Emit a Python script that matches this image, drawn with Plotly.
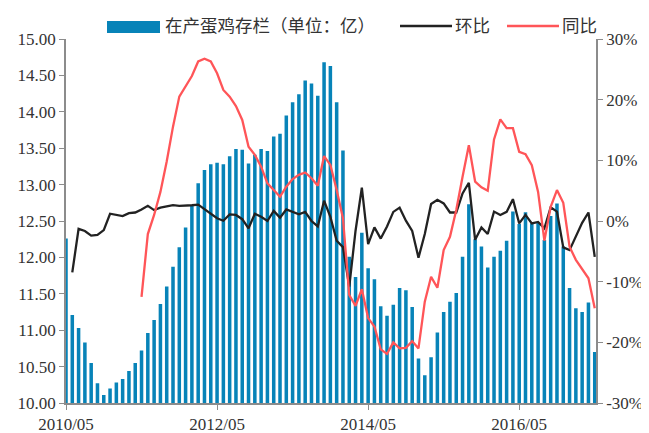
import pandas as pd
import plotly.graph_objects as go

months = [d.strftime("%Y/%m") for d in pd.date_range("2010-05-01", "2017-05-01", freq="MS")]

inventory = [12.26, 11.21, 11.03, 10.83, 10.55, 10.27, 10.11, 10.20, 10.28, 10.33, 10.44, 10.55,
             10.72, 10.96, 11.14, 11.36, 11.60, 11.87, 12.14, 12.41, 12.71, 13.02, 13.20, 13.28,
             13.30, 13.28, 13.39, 13.49, 13.48, 13.29, 13.41, 13.49, 13.46, 13.66, 13.70, 13.95,
             14.13, 14.24, 14.43, 14.39, 14.22, 14.68, 14.63, 14.13, 13.47, 12.01, 11.73, 12.34,
             11.85, 11.70, 11.33, 11.20, 11.35, 11.58, 11.55, 11.32, 10.61, 10.38, 10.63, 10.97,
             11.25, 11.39, 11.51, 12.01, 12.73, 12.25, 12.15, 11.86, 12.01, 12.09, 12.23, 12.63,
             12.46, 12.62, 12.47, 12.48, 12.24, 12.57, 12.74, 12.15, 11.58, 11.30, 11.25, 11.38,
             10.70]

mom = [None, -8.46, -1.3, -1.65, -2.4, -2.3, -1.5, 1.2, 1.0, 0.8, 1.3, 1.4,
       1.9, 2.5, 1.8, 2.2, 2.4, 2.6, 2.5, 2.5, 2.6, 2.7, 1.9, 1.15,
       0.45, 0.05, 1.1, 1.0, 0.3, -1.2, 1.2, 0.7, 0.0, 1.65, 0.55, 1.9,
       1.5, 1.1, 1.5, 0.0, -0.9, 3.35, 0.7, -3.25, -4.3, -10.8, -1.6, 5.5,
       -3.8, -1.05, -2.9, -0.9, 1.5, 2.2, 0.05, -1.65, -6.05, -2.15, 2.8, 3.5,
       2.9, 1.4, 1.4, 4.55, 6.3, -3.1, -1.05, -2.15, 1.55, 1.0, 1.5, 3.6,
       -0.4, 1.0, -0.4, -0.15, -1.2, 2.25, 1.55, -4.35, -4.8, -2.6, -0.3, 1.4,
       -5.9]

yoy = [None] * 12 + [
       -12.5, -2.15, 1.0, 4.8, 9.8, 15.55, 20.5, 22.1, 23.9, 26.3, 26.75, 26.3,
       24.35, 21.6, 20.5, 18.95, 16.65, 12.25, 10.9, 8.95, 6.2, 5.1, 4.0, 5.65,
       6.9, 7.6, 8.0, 7.05, 5.8, 10.7, 9.25, 5.1, 0.45, -12.2, -14.0, -11.25,
       -16.0, -17.4, -21.15, -21.9, -20.0, -21.0, -20.9, -19.8, -21.0, -13.3, -9.2, -11.0,
       -4.8, -2.6, 1.8, 7.3, 12.5, 6.5, 5.55, 5.0, 13.45, 16.75, 15.3, 15.3,
       11.4, 11.0, 9.2, 4.8, -3.25, 2.35, 5.1, 3.0, -4.25, -6.4, -8.0, -9.45,
       -14.4]

left_ticks = [10 + 0.5 * k for k in range(11)]
left_text = ["%.2f" % v for v in left_ticks]
right_ticks = [-30, -20, -10, 0, 10, 20, 30]
right_text = ["%d%%" % v for v in right_ticks]
x_ticks = ["2010/05", "2012/05", "2014/05", "2016/05"]

BLUE = "#0783B8"
BLACK = "#222222"
RED = "#FF5558"
AXIS = "#8C8C8C"
TXT = "#333333"

fig = go.Figure()
fig.add_trace(go.Bar(x=months, y=inventory, marker=dict(color=BLUE, line=dict(width=0)),
                     name="在产蛋鸡存栏（单位：亿）", yaxis="y"))
fig.add_trace(go.Scatter(x=months, y=mom, mode="lines", line=dict(color=BLACK, width=2.3),
                         name="环比", yaxis="y2", connectgaps=False))
fig.add_trace(go.Scatter(x=months, y=yoy, mode="lines", line=dict(color=RED, width=2.3),
                         name="同比", yaxis="y2", connectgaps=False))

tickfont = dict(family="Liberation Serif", size=17, color=TXT)

# page body has an 8px margin; figure is sized so the plot area lands at x 66-596, y 39-403
fig.update_layout(
    width=641, height=425,
    margin=dict(l=58, r=53, t=31, b=30, autoexpand=False),
    paper_bgcolor="white", plot_bgcolor="white",
    showlegend=False,
    bargap=0.44,
    xaxis=dict(type="category", range=[0, 84.2], tickmode="array", tickvals=x_ticks, ticktext=x_ticks,
               showgrid=False, zeroline=False, showline=True, linecolor=AXIS, linewidth=1.5,
               ticks="outside", ticklen=5, tickcolor=AXIS, tickfont=tickfont, automargin=False),
    yaxis=dict(range=[10, 15], tickmode="array", tickvals=left_ticks, ticktext=left_text,
               showgrid=False, zeroline=False, automargin=False,
               showline=True, linecolor=AXIS, linewidth=1.5, ticks="outside", ticklen=5, tickcolor=AXIS,
               tickfont=tickfont),
    yaxis2=dict(range=[-30, 30], tickmode="array", tickvals=right_ticks, ticktext=right_text,
                overlaying="y", side="right", automargin=False,
                showgrid=False, zeroline=False, showline=True, linecolor=AXIS, linewidth=1.5,
                ticks="outside", ticklen=5, tickcolor=AXIS, tickfont=tickfont),
)

# custom legend (positions in page pixels converted to paper coordinates)
W, H = 530.0, 364.0
def px(xp):
    return (xp - 66) / W
def py(yp):
    return (403 - yp) / H

cjk = dict(family="Noto Sans CJK SC", size=17.5, color=TXT)
fig.add_shape(type="rect", xref="paper", yref="paper", x0=px(107), x1=px(160), y0=py(33), y1=py(21),
              fillcolor=BLUE, line=dict(width=0))
fig.add_annotation(xref="paper", yref="paper", x=px(163), y=py(25), text="在产蛋鸡存栏（单位：亿）",
                   showarrow=False, xanchor="left", yanchor="middle", font=cjk)
fig.add_shape(type="line", xref="paper", yref="paper", x0=px(400), x1=px(452), y0=py(26), y1=py(26),
              line=dict(color=BLACK, width=2.3))
fig.add_annotation(xref="paper", yref="paper", x=px(453), y=py(25), text="环比",
                   showarrow=False, xanchor="left", yanchor="middle", font=cjk)
fig.add_shape(type="line", xref="paper", yref="paper", x0=px(507), x1=px(559), y0=py(26), y1=py(26),
              line=dict(color=RED, width=2.3))
fig.add_annotation(xref="paper", yref="paper", x=px(560), y=py(25), text="同比",
                   showarrow=False, xanchor="left", yanchor="middle", font=cjk)

fig.write_html("out.html")
